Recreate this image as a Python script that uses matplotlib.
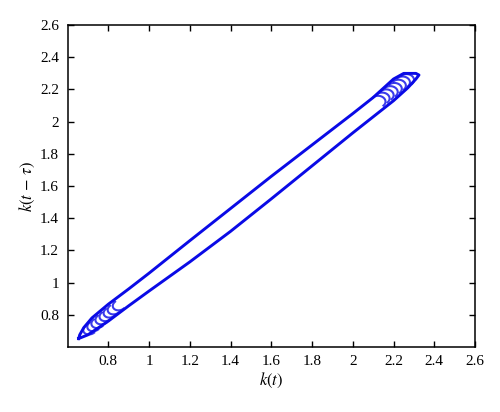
import numpy as np
import matplotlib
matplotlib.use('Agg')
import matplotlib.pyplot as plt

plt.rcParams['font.family'] = ['Liberation Serif', 'DejaVu Serif']
plt.rcParams['mathtext.fontset'] = 'stix'

# limit cycle: lower branch going up, upper branch coming back
ciclo_x = [0.655, 0.70, 0.80, 0.90, 1.00, 1.20, 1.40, 1.60, 1.80, 2.00, 2.10, 2.20,
           2.27, 2.31, 2.325, 2.31, 2.25, 2.20, 2.10, 2.00, 1.80, 1.60, 1.40, 1.20,
           1.00, 0.90, 0.80, 0.72, 0.68, 0.66, 0.655]
ciclo_y = [0.652, 0.675, 0.76, 0.855, 0.947, 1.128, 1.318, 1.52, 1.725, 1.93, 2.03, 2.13,
           2.21, 2.265, 2.29, 2.30, 2.30, 2.265, 2.15, 2.05, 1.855, 1.66, 1.46, 1.26,
           1.058, 0.96, 0.865, 0.78, 0.72, 0.675, 0.652]

# tips of the transient turns near both ends
puntas_sup_x = [2.15, 2.17, 2.19, 2.21, 2.23, 2.25, 2.27, 2.29]
puntas_sup_y = [2.15, 2.17, 2.19, 2.21, 2.23, 2.25, 2.27, 2.285]
puntas_inf_x = [0.685, 0.705, 0.725, 0.745, 0.765, 0.785, 0.805, 0.83]
puntas_inf_y = [0.685, 0.705, 0.725, 0.748, 0.768, 0.79, 0.81, 0.835]

ticks = [0.8, 1.0, 1.2, 1.4, 1.6, 1.8, 2.0, 2.2, 2.4, 2.6]
tick_labels = ['0.8', '1', '1.2', '1.4', '1.6', '1.8', '2', '2.2', '2.4', '2.6']

azul = '#0a0ae6'


def vuelta(xt, yt, signo, prof=0.035, ancho=0.036):
    # half-ellipse arc with its tip at (xt, yt), opened along the diagonal
    th = np.linspace(-np.pi / 2, np.pi / 2, 20)
    u = signo * np.array([1, 1]) / np.sqrt(2)
    v = np.array([-1, 1]) / np.sqrt(2)
    cx = xt - prof * u[0]
    cy = yt - prof * u[1]
    px = cx + prof * np.cos(th) * u[0] + ancho * np.sin(th) * v[0]
    py = cy + prof * np.cos(th) * u[1] + ancho * np.sin(th) * v[1]
    return px, py


fig = plt.figure(figsize=(5, 4.12), dpi=100)
ax = fig.add_axes([0.135, 0.158, 0.815, 0.781])

for xt, yt in zip(puntas_sup_x, puntas_sup_y):
    px, py = vuelta(xt, yt, 1)
    ax.plot(px, py, color=azul, lw=1.5, alpha=0.8)
for xt, yt in zip(puntas_inf_x, puntas_inf_y):
    px, py = vuelta(xt, yt, -1, ancho=0.03)
    ax.plot(px, py, color=azul, lw=1.5, alpha=0.8)

ax.plot(ciclo_x, ciclo_y, color=azul, lw=2.1, solid_joinstyle='round')

ax.set_xlim(0.6, 2.6)
ax.set_ylim(0.6, 2.6)
ax.set_xticks(ticks)
ax.set_xticklabels(tick_labels)
ax.set_yticks(ticks)
ax.set_yticklabels(tick_labels)
ax.tick_params(direction='in', length=4, width=1, top=True, right=True,
               labelsize=11, pad=6)
for s in ax.spines.values():
    s.set_linewidth(1.1)

ax.set_xlabel(r'$k(t)$', fontsize=12, labelpad=2)
ax.set_ylabel(r'$k(t\,-\,\tau)$', fontsize=12, labelpad=2)

plt.savefig('out.png', dpi=100)
